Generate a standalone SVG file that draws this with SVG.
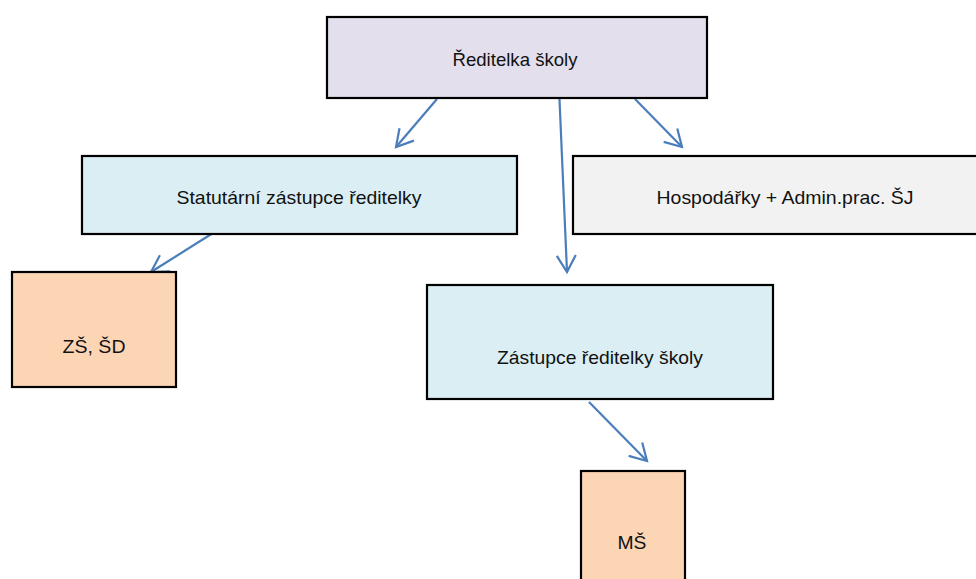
<svg xmlns="http://www.w3.org/2000/svg" width="976" height="579" viewBox="0 0 976 579">
<style>
.box{stroke:#000;stroke-width:2.2}
.t{font-family:"Liberation Sans",Arial,sans-serif;font-size:19px;fill:#111;text-anchor:middle}
.c{fill:none;stroke:#4a7ebb;stroke-width:2.2;marker-end:url(#ah)}
</style>
<defs>
<marker id="ah" markerUnits="userSpaceOnUse" markerWidth="40" markerHeight="40" refX="0" refY="0" viewBox="-20 -20 40 40" orient="auto" overflow="visible">
<path d="M-16.5,-9.5 L0,0 L-16.5,9.5" fill="none" stroke="#4a7ebb" stroke-width="2.2"/>
</marker>
</defs>
<rect width="976" height="579" fill="#fff"/>
<g id="connectors">
<line class="c" x1="437" y1="99" x2="396" y2="147"/>
<line class="c" x1="559" y1="88" x2="567" y2="272"/>
<line class="c" x1="635" y1="99" x2="682" y2="147"/>
<line class="c" x1="213" y1="233" x2="151" y2="272"/>
<line class="c" x1="589" y1="402" x2="647" y2="461"/>
</g>
<g id="reditelka">
<rect class="box" x="327" y="17" width="380" height="81" fill="#e4dfec"/>
<text class="t" x="515" y="66" textLength="125" lengthAdjust="spacingAndGlyphs">Ředitelka školy</text>
</g>
<g id="statutarni">
<rect class="box" x="82" y="156" width="435" height="78" fill="#daeef3"/>
<text class="t" x="299" y="204" textLength="245" lengthAdjust="spacingAndGlyphs">Statutární zástupce ředitelky</text>
</g>
<g id="hospodarky">
<rect class="box" x="573" y="156" width="417" height="78" fill="#f2f2f2"/>
<text class="t" x="785" y="204" textLength="257" lengthAdjust="spacingAndGlyphs">Hospodářky + Admin.prac. ŠJ</text>
</g>
<g id="zs">
<rect class="box" x="12" y="272" width="164" height="115" fill="#fcd5b5"/>
<text class="t" x="94" y="353" textLength="63" lengthAdjust="spacingAndGlyphs">ZŠ, ŠD</text>
</g>
<g id="zastupce">
<rect class="box" x="427" y="285" width="346" height="114" fill="#daeef3"/>
<text class="t" x="600" y="364" textLength="206" lengthAdjust="spacingAndGlyphs">Zástupce ředitelky školy</text>
</g>
<g id="ms">
<rect class="box" x="581" y="471" width="104" height="120" fill="#fcd5b5"/>
<text class="t" x="632" y="549" textLength="29" lengthAdjust="spacingAndGlyphs">MŠ</text>
</g>
</svg>
